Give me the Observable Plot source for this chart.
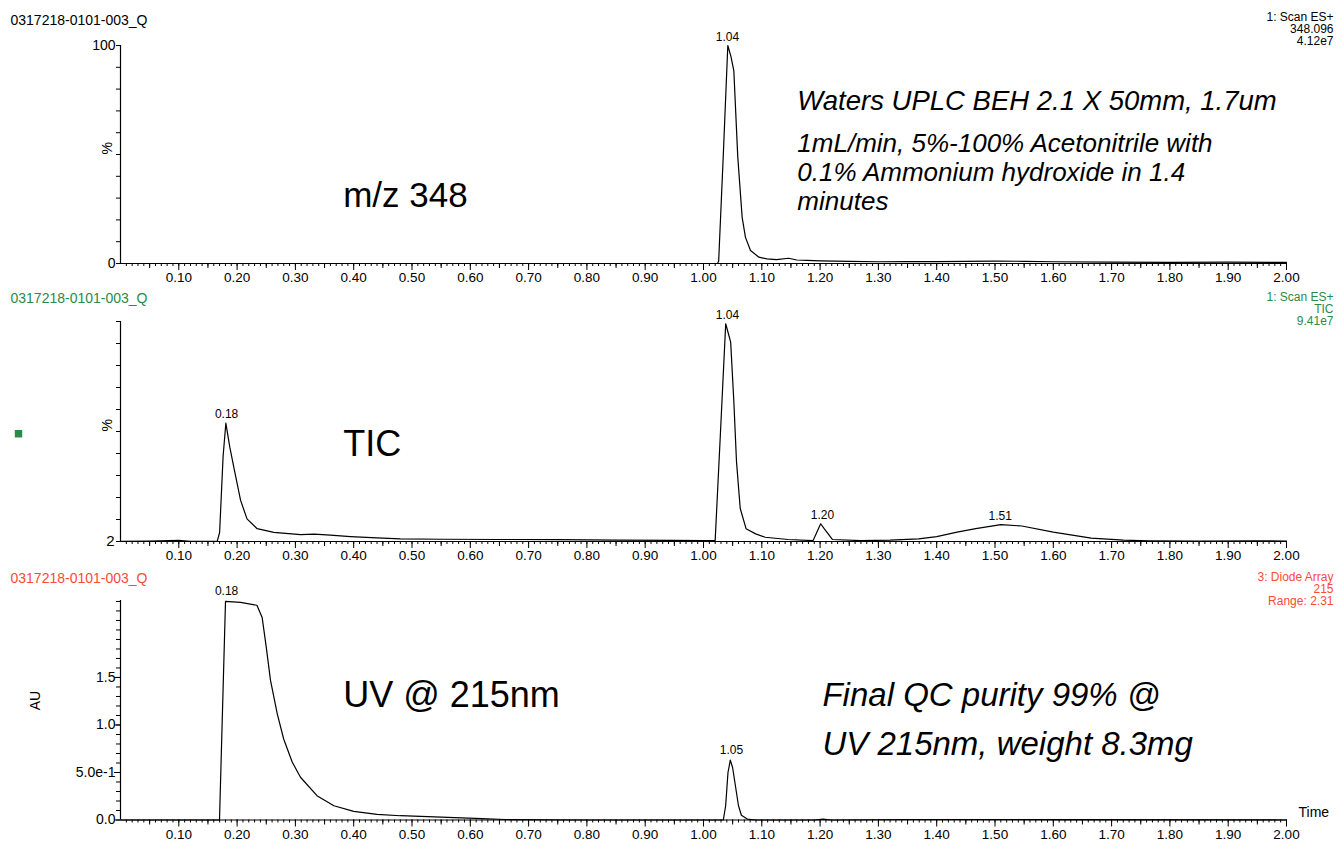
<!DOCTYPE html>
<html><head><meta charset="utf-8">
<script src="https://cdn.jsdelivr.net/npm/d3@7"></script>
<script src="https://cdn.jsdelivr.net/npm/@observablehq/plot@0.6"></script>
<style>
body{margin:0;background:#fff;}
#chart{position:relative;width:1338px;height:844px;overflow:hidden;background:#fff;}
#chart svg{position:absolute;left:0;}
</style></head><body><div id="chart"></div>
<script>
// ---------- data ----------
const sampleId = "0317218-0101-003_Q";

// Panel 1: m/z 348 (%)
const timeMS = [0.00,0.50,1.000,1.024,1.026,1.034,1.0417,1.047,1.052,1.0588,1.0663,1.072,1.0806,1.095,1.109,1.125,1.146,1.160,1.178,1.20,1.25,1.30,1.35,1.40,1.45,1.50,1.55,1.60,1.70,1.80,1.90,2.00];
const pctMS  = [0,0,0,0,1,50,100,95,88.5,48.8,21.2,12,6,2.9,2.1,1.8,2.4,1.6,1.4,1.2,1.0,0.8,0.9,0.9,1.0,1.1,1.0,0.8,0.6,0.5,0.6,0.5];

// Panel 2: TIC (%)
const timeTIC = [0.00,0.05,0.10,0.12,0.166,0.170,0.176,0.1807,0.1875,0.1944,0.206,0.217,0.2344,0.263,0.309,0.332,0.36,0.3945,0.44,0.48,0.55,0.65,0.75,0.85,0.95,1.00,1.020,1.029,1.0381,1.0466,1.052,1.0566,1.063,1.073,1.0895,1.106,1.145,1.188,1.201,1.207,1.221,1.27,1.32,1.369,1.40,1.435,1.467,1.51,1.546,1.60,1.665,1.72,1.764,1.85,1.95,2.00];
const pctTIC  = [2.1,2.2,2.5,2.1,2.2,6,40,54.7,44,35,20.3,12.1,7.7,6.1,5.1,5.3,4.8,4.2,3.6,3.2,3.0,2.9,2.8,2.6,2.5,2.4,2.4,50,99,90.8,64.6,37.6,16.7,7.7,5.4,3.9,2.9,2.4,9.9,7.7,2.9,2.4,2.6,3.2,4.2,6.2,7.7,9.5,8.9,6.2,3.5,2.6,2.3,2.2,2.3,2.2];

// Panel 3: UV 215 nm (AU)
const timeUV = [0.00,0.1698,0.1801,0.206,0.234,0.243,0.25,0.2573,0.2688,0.28,0.2945,0.3087,0.337,0.366,0.400,0.44,0.48,0.55,0.62,0.66,0.80,1.00,1.034,1.038,1.042,1.046,1.050,1.055,1.060,1.065,1.075,1.09,1.19,1.205,1.22,1.35,1.60,2.00];
const auUV   = [0,0,2.30,2.29,2.26,2.13,1.82,1.47,1.12,0.85,0.61,0.45,0.256,0.15,0.09,0.06,0.045,0.03,0.015,0.005,0,0,0,0.15,0.5,0.63,0.55,0.35,0.15,0.05,0.01,0,0,0.01,0,0.005,0.005,0];

// peak labels
const peaksMS  = [{t:1.041, v:100, label:"1.04"}];
const peaksTIC = [{t:0.182, v:54.7, label:"0.18"},{t:1.041, v:99, label:"1.04"},{t:1.204, v:9.9, label:"1.20"},{t:1.509, v:9.5, label:"1.51"}];
const peaksUV  = [{t:0.182, v:2.30, label:"0.18"},{t:1.048, v:0.63, label:"1.05"}];

// x tick labels
const majorTicks = [0.10,0.20,0.30,0.40,0.50,0.60,0.70,0.80,0.90,1.00,1.10,1.20,1.30,1.40,1.50,1.60,1.70,1.80,1.90,2.00];
const midTicks = [0.05,0.15,0.25,0.35,0.45,0.55,0.65,0.75,0.85,0.95,1.05,1.15,1.25,1.35,1.45,1.55,1.65,1.75,1.85,1.95];
const minorTicks = d3.range(1, 201).map(i => i / 100);

// y ticks
const ticksMS = [0,10,20,30,40,50,60,70,80,90,100];
const ticksTIC = [2,11.8,21.6,31.4,41.2,51,60.8,70.6,80.4,90.2,100];
const ticksUVmajor = [0, 0.5, 1.0, 1.5];
const ticksUVlabels = ["0.0", "5.0e-1", "1.0", "1.5"];
const ticksUVminor = d3.range(0, 24).map(i => i / 10);

// headers
const headerMS  = "1: Scan ES+\n348.096\n4.12e7";
const headerTIC = "1: Scan ES+\nTIC\n9.41e7";
const headerUV  = "3: Diode Array\n215\nRange: 2.31";

// annotations
const notesMS = [
  {t:0.382, v:31.2, text:"m/z 348", size:35, italic:false, lh:1},
  {t:1.161, v:74.3, text:"Waters UPLC BEH 2.1 X 50mm, 1.7um", size:27.5, italic:true, lh:1},
  {t:1.161, v:42.2, text:"1mL/min, 5%-100% Acetonitrile with\n0.1% Ammonium hydroxide in 1.4\nminutes", size:26, italic:true, lh:1.13}
];
const notesTIC = [{t:0.382, v:45.2, text:"TIC", size:36, italic:false, lh:1}];
const notesUV = [
  {t:0.382, v:1.31, text:"UV @ 215nm", size:36, italic:false, lh:1},
  {t:1.204, v:1.31, text:"Final QC purity 99% @", size:33, italic:true, lh:1},
  {t:1.204, v:0.79, text:"UV 215nm, weight 8.3mg", size:33, italic:true, lh:1}
];

// ---------- drawing ----------
const FONT = "'Liberation Sans', Arial, Helvetica, sans-serif";
const GREEN = "#2b8a45";
const RED = "#ff4a33";
const W = 1338, ML = 120, MR = 52;

function xAxes() {
  return [
    Plot.axisX({ticks: minorTicks, tickSize: 3, tickFormat: () => "", label: null, strokeWidth: 1}),
    Plot.axisX({ticks: midTicks, tickSize: 5, tickFormat: () => "", label: null, strokeWidth: 1}),
    Plot.axisX({ticks: majorTicks, tickSize: 7, tickPadding: 2, tickFormat: d3.format(".2f"), label: null, fontSize: 13.5, strokeWidth: 1})
  ];
}

function noteMarks(notes) {
  return notes.map(n => Plot.text([n], {
    x: "t", y: "v", text: "text", textAnchor: "start", lineAnchor: "middle", lineHeight: n.lh,
    fontSize: n.size, fontStyle: n.italic ? "italic" : "normal", fill: "black"
  }));
}

function peakMarks(peaks, dy) {
  return Plot.text(peaks, {x: "t", y: "v", text: "label", dy: dy, lineAnchor: "middle", fontSize: 12, fill: "black"});
}

function headers(color, rightText, leftDy, rightDy) {
  return [
    Plot.text([sampleId], {text: d => d, frameAnchor: "top-left", dx: 10 - ML, dy: leftDy, textAnchor: "start", lineAnchor: "middle", fontSize: 14, fill: color}),
    Plot.text([rightText], {text: d => d, frameAnchor: "top-right", dx: 47, dy: rightDy, textAnchor: "end", lineAnchor: "top", lineHeight: 1.0, fontSize: 12, fill: color})
  ];
}

function place(svg, top) {
  svg.style.top = top + "px";
  document.getElementById("chart").appendChild(svg);
}

const baseStyle = {fontFamily: FONT, fontSize: "13px", color: "black", background: "transparent", overflow: "visible"};

// Panel 1
const dataMS = timeMS.map((t, i) => ({t, v: pctMS[i]}));
place(Plot.plot({
  width: W, height: 288, marginLeft: ML, marginRight: MR, marginTop: 45, marginBottom: 25,
  style: baseStyle,
  x: {domain: [0, 2.0]},
  y: {domain: [0, 100]},
  marks: [
    ...xAxes(),
    Plot.axisY({ticks: ticksMS, tickSize: 4, tickPadding: 1, tickFormat: d => (d === 0 || d === 100) ? String(d) : "", label: null, fontSize: 14}),
    Plot.ruleY([0], {stroke: "black", strokeWidth: 1.2}),
    Plot.ruleX([0], {stroke: "black", strokeWidth: 1.2}),
    Plot.text(["%"], {text: d => d, frameAnchor: "left", dx: -13, rotate: -90, fontSize: 14, fill: "black"}),
    Plot.line(dataMS, {x: "t", y: "v", stroke: "black", strokeWidth: 1.2}),
    peakMarks(peaksMS, -8),
    ...noteMarks(notesMS),
    ...headers("black", headerMS, -25, -33)
  ]
}), 0);

// Panel 2
const dataTIC = timeTIC.map((t, i) => ({t, v: pctTIC[i]}));
const squareTIC = [{t: 0, v: 50}];
place(Plot.plot({
  width: W, height: 280, marginLeft: ML, marginRight: MR, marginTop: 33, marginBottom: 27,
  style: baseStyle,
  x: {domain: [0, 2.0]},
  y: {domain: [2, 100]},
  marks: [
    ...xAxes(),
    Plot.axisY({ticks: ticksTIC, tickSize: 4, tickPadding: 2, tickFormat: d => d === 2 ? "2" : "", label: null, fontSize: 15}),
    Plot.ruleY([2], {stroke: "black", strokeWidth: 1.2}),
    Plot.ruleX([0], {stroke: "black", strokeWidth: 1.2}),
    Plot.text(["%"], {text: d => d, frameAnchor: "left", dx: -13, rotate: -90, fontSize: 14, fill: "black"}),
    Plot.dot(squareTIC, {x: "t", y: "v", dx: -102, symbol: "square", r: 4.2, fill: GREEN, stroke: "none"}),
    Plot.line(dataTIC, {x: "t", y: "v", stroke: "black", strokeWidth: 1.2}),
    peakMarks(peaksTIC, -9),
    ...noteMarks(notesTIC),
    ...headers(GREEN, headerTIC, -23, -29)
  ]
}), 288);

// Panel 3
const dataUV = timeUV.map((t, i) => ({t, v: auUV[i]}));
place(Plot.plot({
  width: W, height: 276, marginLeft: ML, marginRight: MR, marginTop: 32, marginBottom: 24.5,
  style: baseStyle,
  x: {domain: [0, 2.0]},
  y: {domain: [0, 2.31]},
  marks: [
    ...xAxes(),
    Plot.axisY({ticks: ticksUVminor, tickSize: 4, tickFormat: () => "", label: null}),
    Plot.axisY({ticks: ticksUVmajor, tickSize: 6, tickPadding: -1, tickFormat: d => ticksUVlabels[ticksUVmajor.indexOf(d)], label: null, fontSize: 14}),
    Plot.ruleY([0], {stroke: "black", strokeWidth: 1.2}),
    Plot.ruleX([0], {stroke: "black", strokeWidth: 1.2}),
    Plot.text(["AU"], {text: d => d, frameAnchor: "left", dx: -85, rotate: -90, fontSize: 14, fill: "black"}),
    Plot.text(["Time"], {text: d => d, frameAnchor: "bottom-right", dx: 12, dy: -3, textAnchor: "start", fontSize: 14, fill: "black"}),
    Plot.line(dataUV, {x: "t", y: "v", stroke: "black", strokeWidth: 1.2}),
    peakMarks(peaksUV, -10),
    ...noteMarks(notesUV),
    ...headers(RED, headerUV, -22, -28)
  ]
}), 568);
</script></body></html>
